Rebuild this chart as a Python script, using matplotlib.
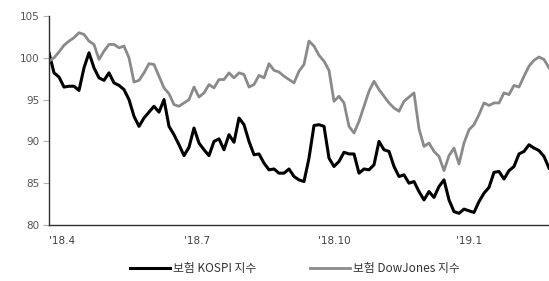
import matplotlib
matplotlib.use("Agg")
import matplotlib.pyplot as plt
import pandas as pd

plt.rcParams['font.family'] = ['Noto Sans CJK KR', 'DejaVu Sans']

start_date = "2018-04-02"
end_date = "2019-03-06"
n_points = 101

kospi = [100.6, 98.2, 97.7, 96.5, 96.6, 96.6, 96.1, 98.8, 100.6, 98.8,
         97.6, 97.3, 98.2, 97.0, 96.7, 96.2, 95.0, 93.0, 91.8, 92.8,
         93.5, 94.2, 93.5, 95.0, 91.8, 90.8, 89.6, 88.3, 89.3, 91.6,
         89.8, 89.0, 88.3, 90.0, 90.3, 89.0, 90.8, 89.9, 92.8, 92.0,
         90.0, 88.4, 88.5, 87.4, 86.6, 86.7, 86.2, 86.2, 86.7, 85.8,
         85.4, 85.2, 88.0, 91.9, 92.0, 91.8, 88.0, 87.0, 87.6, 88.7,
         88.5, 88.5, 86.2, 86.7, 86.6, 87.2, 90.0, 89.0, 88.8, 87.0,
         85.8, 86.0, 85.0, 85.2, 84.0, 83.0, 84.0, 83.3, 84.6, 85.4,
         83.0, 81.6, 81.4, 81.9, 81.7, 81.5, 82.8, 83.8, 84.5, 86.3,
         86.4, 85.5, 86.5, 87.0, 88.5, 88.8, 89.6, 89.2, 88.9, 88.2,
         86.8]

dowjones = [99.6, 100.0, 100.7, 101.5, 102.0, 102.4, 103.0, 102.8, 102.0, 101.6,
            99.8, 100.8, 101.6, 101.6, 101.2, 101.4, 100.0, 97.1, 97.3, 98.2,
            99.3, 99.2, 97.8, 96.4, 95.7, 94.4, 94.2, 94.6, 95.0, 96.5,
            95.3, 95.8, 96.8, 96.4, 97.4, 97.4, 98.2, 97.6, 98.2, 98.0,
            96.5, 96.8, 97.9, 97.6, 99.3, 98.5, 98.3, 97.8, 97.4, 97.0,
            98.4, 99.2, 102.0, 101.4, 100.3, 99.6, 98.5, 94.8, 95.4, 94.6,
            91.8, 91.0, 92.4, 94.2, 96.0, 97.2, 96.2, 95.4, 94.6, 94.0,
            93.6, 94.8, 95.3, 95.8, 91.5, 89.4, 89.8, 88.8, 88.2, 86.5,
            88.3, 89.2, 87.3, 89.8, 91.4, 92.0, 93.2, 94.6, 94.3, 94.6,
            94.6, 95.8, 95.6, 96.7, 96.5, 97.8, 99.0, 99.7, 100.1, 99.8,
            98.8]

tick_dates = ["2018-04-02", "2018-07-02", "2018-10-01", "2019-01-02"]
tick_labels = ["'18.4", "'18.7", "'18.10", "'19.1"]
y_ticks = [80, 85, 90, 95, 100, 105]
series_names = ["보험 KOSPI 지수", "보험 DowJones 지수"]

dates = pd.date_range(start_date, end_date, periods=n_points)

fig = plt.figure(figsize=(5.49, 2.81), dpi=100)
ax = fig.add_axes([49/549, 1-225/281, 1-49/549, (225-16)/281])

ax.plot(dates, kospi, color="black", lw=2.2, label=series_names[0], solid_joinstyle="round")
ax.plot(dates, dowjones, color="#8a8a8a", lw=2.0, label=series_names[1], solid_joinstyle="round")

ax.set_xlim(dates[0], dates[-1])
ax.set_ylim(80, 105)
ax.set_yticks(y_ticks)
ax.set_yticklabels([str(v) for v in y_ticks], fontsize=7.5, color="#555555", family="DejaVu Sans")
ax.set_xticks(pd.to_datetime(tick_dates))
ax.set_xticklabels(tick_labels, fontsize=7.5, color="#404040", family="DejaVu Sans")
for lab in ax.get_xticklabels():
    lab.set_horizontalalignment("left")
ax.tick_params(axis="x", length=0, pad=8)
ax.tick_params(axis="y", length=4, width=0.8, color="#b0b0b0", pad=3)

for s in ["top", "right"]:
    ax.spines[s].set_visible(False)
for s in ["left", "bottom"]:
    ax.spines[s].set_color("#303030")
    ax.spines[s].set_linewidth(1.0)

leg = fig.legend(loc="center", bbox_to_anchor=(0.537, 0.045), ncol=2, frameon=False,
                 fontsize=8.5, handlelength=3.4, handletextpad=0.25, columnspacing=4.6)
for t in leg.get_texts():
    t.set_color("#333333")

fig.savefig("out.png", dpi=100)
